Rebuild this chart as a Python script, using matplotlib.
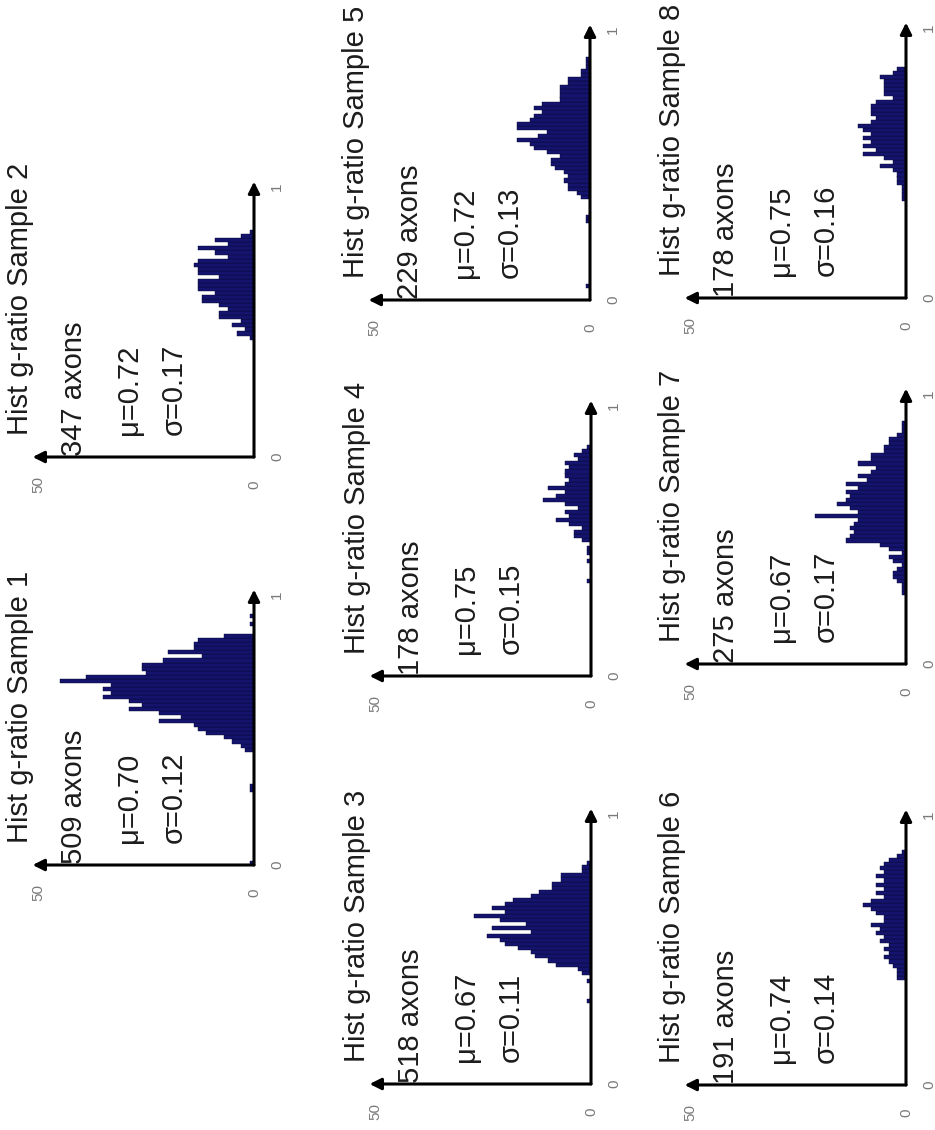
import numpy as np
import matplotlib
matplotlib.use("Agg")
import matplotlib.pyplot as plt

plt.rcParams['font.family'] = ['Liberation Sans', 'DejaVu Sans']

# ---------------- data ----------------
BIN_WIDTH = 0.015          # g-ratio histogram bin width
COUNT_MAX = 50
sample_names = ["Hist g-ratio Sample 1", "Hist g-ratio Sample 2", "Hist g-ratio Sample 3",
                "Hist g-ratio Sample 4", "Hist g-ratio Sample 5", "Hist g-ratio Sample 6",
                "Hist g-ratio Sample 7", "Hist g-ratio Sample 8"]
n_axons = [509, 347, 518, 178, 229, 191, 275, 178]
mu_values = ["0.70", "0.72", "0.67", "0.75", "0.72", "0.74", "0.67", "0.75"]
sigma_values = ["0.12", "0.17", "0.11", "0.15", "0.13", "0.14", "0.17", "0.16"]

# histogram counts; first_bin = index of the first bin (bin lower edge = index * BIN_WIDTH)
s1_first_bin = 0
s1_counts = ([1] + [0] * 17 + [1, 1] + [0] * 8 +
             [2, 3, 5, 7, 11, 13, 14, 22, 17, 22, 29, 26, 29, 35, 33, 35, 33, 45, 39, 25,
              26, 26, 21, 12, 20, 14, 14, 13, 7] + [0, 0, 1, 0, 1])
s2_first_bin = 29
s2_counts = [1, 4, 2, 5, 3, 8, 8, 6, 8, 12, 12, 9, 13, 13, 13, 8, 13, 13, 14, 13,
             6, 9, 13, 6, 9, 3, 1]
s3_first_bin = 20
s3_counts = ([1] + [0] * 4 + [1, 0] +
             [2, 3, 8, 10, 13, 14, 17, 20, 21, 24, 14, 23, 15, 21, 27, 20, 23, 20, 18, 14,
              12, 9, 9, 7, 7, 2, 2] + [1])
s4_first_bin = 23
s4_counts = ([1] + [0] * 4 + [1, 0, 1, 1, 0] +
             [2, 4, 4, 2, 5, 8, 5, 6, 3, 6, 11, 8, 6, 10, 6, 5, 6, 6, 5, 6, 3, 4, 2, 1])
s5_first_bin = 3
s5_counts = ([1] + [0] * 15 + [1, 1] + [0] * 4 +
             [2, 3, 5, 5, 6, 5, 6, 8, 9, 9, 7, 10, 13, 14, 17, 12, 10, 17, 17, 14,
              13, 11, 13, 11, 7, 7, 7, 7, 5, 5, 2, 2, 1, 1, 1])
s6_first_bin = 26
s6_counts = [2, 2, 2, 3, 4, 5, 4, 5, 4, 6, 5, 7, 6, 8, 5, 5, 7, 8, 10, 8,
             5, 7, 5, 7, 5, 7, 5, 6, 5, 4, 2, 1]
s7_first_bin = 17
s7_counts = [1, 1, 1, 2, 3, 3, 2, 1, 3, 4, 1, 4, 6, 14, 13, 12, 13, 12, 11, 21,
             11, 13, 16, 14, 13, 14, 11, 14, 9, 11, 8, 7, 11, 8, 8, 5, 5, 4, 4, 2,
             1, 1, 1]
s8_first_bin = 24
s8_counts = [1, 1, 1, 1, 2, 2, 2, 3, 6, 3, 5, 10, 7, 10, 8, 10, 8, 10, 11, 8,
             7, 8, 8, 8, 7, 3, 5, 5, 5, 5, 6, 3, 2]

first_bins = [s1_first_bin, s2_first_bin, s3_first_bin, s4_first_bin,
              s5_first_bin, s6_first_bin, s7_first_bin, s8_first_bin]
all_counts = [s1_counts, s2_counts, s3_counts, s4_counts,
              s5_counts, s6_counts, s7_counts, s8_counts]

# ---------------- layout (pixels, image is portrait / rotated) ----------------
FIG_W, FIG_H = 935, 1130
AX_W, AX_H = 216, 270
# (x of g-ratio axis, y of count axis) for each panel
panel_origin = [(254, 865), (254, 457), (591, 1084), (591, 676),
                (590, 300), (906, 1085), (906, 664), (906, 298)]

BAR_COLOR = '#14146e'
TEXT_COLOR = '#1c1c1c'
TICK_COLOR = '#7a7a7a'

fig = plt.figure(figsize=(FIG_W / 100, FIG_H / 100), dpi=100)
fig.patch.set_facecolor('white')

for i in range(8):
    x0, y0 = panel_origin[i]
    ax = fig.add_axes([(x0 - AX_W) / FIG_W, (FIG_H - y0) / FIG_H, AX_W / FIG_W, AX_H / FIG_H])
    ax.set_xlim(COUNT_MAX, 0)
    ax.set_ylim(0, 1)
    ax.patch.set_alpha(0)
    for s in ax.spines.values():
        s.set_visible(False)

    counts = np.array(all_counts[i], dtype=float)
    edges = (first_bins[i] + np.arange(len(counts))) * BIN_WIDTH
    ax.barh(edges, counts, height=BIN_WIDTH, align='edge', color=BAR_COLOR,
            edgecolor='#06062e', linewidth=0.3, zorder=2)

    # ticks
    ax.set_xticks([0, COUNT_MAX])
    ax.set_xticklabels(['0', str(COUNT_MAX)], rotation=90, va='center', ha='center',
                       color=TICK_COLOR, fontsize=11)
    ax.tick_params(axis='x', length=0, pad=20)
    ax.yaxis.tick_right()
    ax.set_yticks([0, 1])
    ax.set_yticklabels(['0', '1'], rotation=90, va='center', ha='center',
                       color=TICK_COLOR, fontsize=11)
    ax.tick_params(axis='y', length=0, pad=16.5)

    # arrowed axes
    arrow = dict(arrowstyle='-|>', color='black', lw=2.2, mutation_scale=17,
                 shrinkA=0, shrinkB=0)
    ax.annotate('', xy=(-0.025, 0), xytext=(1.0, 0), xycoords='axes fraction',
                arrowprops=arrow, annotation_clip=False, zorder=4)
    ax.annotate('', xy=(1.0, 1.02), xytext=(1.0, 0), xycoords='axes fraction',
                arrowprops=arrow, annotation_clip=False, zorder=4)

    # texts
    txt = dict(rotation=90, rotation_mode='anchor', ha='left', va='baseline',
               fontsize=21, color=TEXT_COLOR, clip_on=False, zorder=5)
    ax.text(52.3, 0.08, sample_names[i], **txt)
    ax.text(39.8, 0.005, f"{n_axons[i]} axons", **txt)
    ax.text(27.0, 0.08, f"\u03bc={mu_values[i]}", **txt)
    ax.text(16.7, 0.08, f"\u03c3={sigma_values[i]}", **txt)

fig.savefig('out.png', dpi=100, facecolor='white')
